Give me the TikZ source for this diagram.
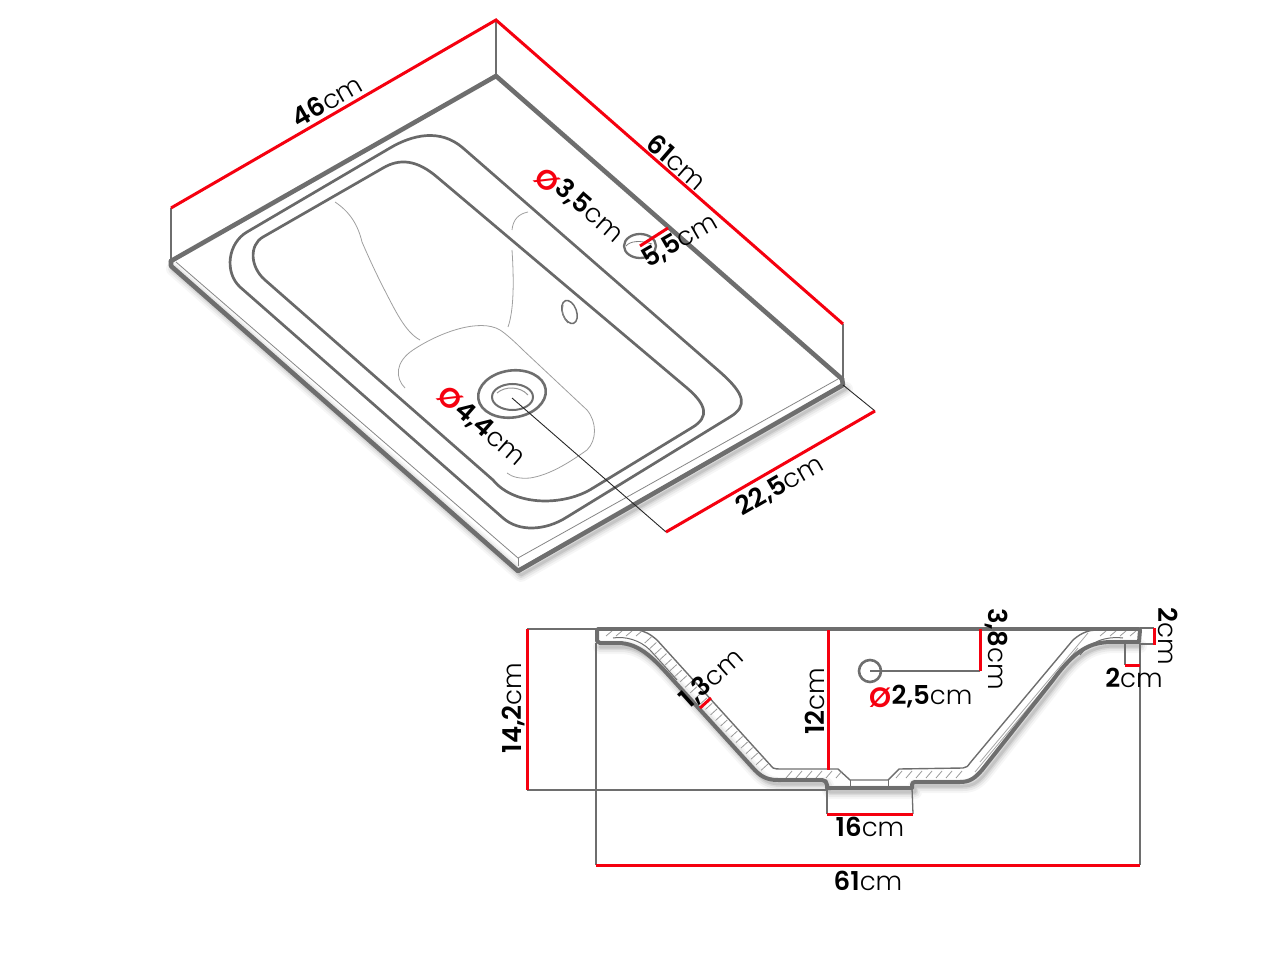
\documentclass[tikz,border=0pt]{standalone}
\usepackage{fontspec}
\setmainfont{Poppins}
\newfontfamily\lightf{Poppins Light}
\newfontfamily\boldf{Poppins SemiBold}
\usetikzlibrary{decorations.pathreplacing}
\definecolor{ln}{HTML}{6E6E6E}
\definecolor{redd}{HTML}{F5000F}
\newcommand{\lab}[2]{{\boldf #1}{\lightf #2}}
\newcommand{\softsh}[1]{%
  \foreach \w/\o in {14/0.035,10/0.05,6/0.07,3/0.09}{\draw[black,opacity=\o,line width=\w pt,line cap=round,line join=round,shift={(3,4)}] #1;}}
\tikzset{
  x=1pt,y=-1pt,
  heavy/.style={ln,line width=4.6pt,line join=round,line cap=round},
  rim/.style={ln!95!black,line width=2.7pt,line join=round},
  fine/.style={gray!75,line width=.8pt},
  sect/.style={ln,line width=1.4pt,line join=round},
  ext/.style={ln,line width=1.3pt},
  reddim/.style={redd,line width=3pt},
  tick/.style={gray!80,line width=.8pt},
  tl/.style={font=\fontsize{26}{26}\selectfont,inner sep=0pt,text=black},
  ph/.style={font=\fontsize{28}{28}\selectfont\boldf,inner sep=0pt,text=redd},
}
\begin{document}
\begin{tikzpicture}
\useasboundingbox (0,0) rectangle (1280,960);
% shadows
\softsh{(170,265) -- (518,571) -- (843,385)}
\softsh{(597,643) -- (618,643) .. controls (640,643) and (655,660) .. (673,680) -- (752,767) .. controls (760,776) and (766,780) .. (778,780) -- (823,780) -- (827,788) -- (912,788) -- (912,782) -- (960,782) .. controls (970,782) and (975,778) .. (982,770) -- (1053,680) .. controls (1075,650) and (1090,642) .. (1112,642) -- (1137,642)}
% ---- top view ----
\draw[ext] (171,208) -- (171,260);
\draw[ext] (496,20) -- (496,76);
\draw[ext] (843,324) -- (843,378);
\draw[reddim] (171,208) -- (496,20) -- (843,324);
\draw[heavy] (171,261) -- (496,76) -- (842,379);
\draw[heavy] (171,261) -- (171,266) -- (518,571) -- (843,385) -- (842,379);
\draw[fine,gray!95] (176,262) -- (518,558) -- (838,379);
\draw[fine,gray!95] (518,558) -- (518,566);
% outer rim
\draw[rim] (390,148) .. controls (412,135) and (440,128) .. (463,148)
  -- (720,372) .. controls (745,394) and (748,406) .. (730,417)
  -- (567,517) .. controls (545,531) and (519,532) .. (503,518)
  -- (240,287) .. controls (224,272) and (228,243) .. (247,232) -- cycle;
% inner rim
\draw[rim] (383,168) .. controls (400,158) and (417,160) .. (437,177)
  -- (687,388) .. controls (707,405) and (709,417) .. (693,427)
  -- (593,488) .. controls (565,506) and (515,507) .. (493,480)
  -- (265,280) .. controls (250,267) and (249,245) .. (263,237) -- cycle;
% fine moulding lines
\draw[fine] (335,202) .. controls (350,212) and (358,225) .. (362,242) .. controls (372,265) and (378,277) .. (383,287) .. controls (395,310) and (405,332) .. (420,340);
\draw[fine] (528,212) .. controls (518,214) and (513,220) .. (512,230);
\draw[fine] (512,250) .. controls (514,280) and (514,310) .. (508,327);
\draw[fine] (405,388) .. controls (395,378) and (395,362) .. (413,350) .. controls (440,332) and (480,318) .. (500,330) .. controls (505,333) and (515,342) .. (523,350) -- (587,410) .. controls (597,422) and (597,440) .. (587,450) .. controls (570,462) and (550,475) .. (530,478) .. controls (520,479) and (512,477) .. (507,473);
% drain
\draw[ln,line width=2.6pt,rotate around={8:(512,394)}] (512,394) ellipse [x radius=34,y radius=23.5];
\draw[ln,line width=2pt] (512.5,397) ellipse [x radius=20.5,y radius=13];
\draw[gray!80,line width=1pt] (497,393) .. controls (505,386) and (520,386) .. (528,395);
% overflow
\draw[ln,line width=1.5pt,rotate around={20:(569.5,312)}] (569.5,312) ellipse [x radius=7,y radius=12];
\draw[gray,line width=1pt] (563,305) .. controls (561,312) and (563,318) .. (568,323);
% tap hole
\draw[ln,line width=2.3pt] (640,246) ellipse [x radius=16,y radius=12];
\draw[gray,line width=.8pt] (626,246) .. controls (630,241) and (640,240) .. (652,244);
% dims top view
\draw[black!85,line width=.9pt] (512,398) -- (666,532);
\draw[black!85,line width=.9pt] (875,411) -- (843,385);
\draw[reddim] (666,532) -- (875,411);
\draw[reddim] (640,246) -- (668,228);
% ---- section ----
\draw[ext] (527,629) -- (597,629);
\draw[ext] (527,790) -- (827,790);
\draw[ext] (596,643) -- (596,865);
\draw[ext] (1140,643) -- (1140,865);
\draw[ext] (827,788) -- (827,814);
\draw[ext] (912,788) -- (913,814);
\draw[ext] (1140,628) -- (1154,628);
\draw[ext] (1140,644) -- (1154,644);
\draw[ext] (1125,640) -- (1125,665);
\draw[ext] (980,671) -- (870,671);
% section outline
\draw[sect] (637,630) .. controls (645,631) and (650,634) .. (657,640) -- (773,768) .. controls (775,769) and (778,769) .. (780,769) -- (838,769) -- (850,780) -- (888,780) -- (899,769) -- (963,768) .. controls (966,768) and (968,766) .. (970,763) -- (1073,640) .. controls (1082,632) and (1090,630) .. (1097,630);
\draw[sect,line width=1pt] (613,638) .. controls (625,636) and (640,640) .. (650,650) -- (677,680);
\draw[sect,line width=1pt] (1123,638) .. controls (1105,636) and (1090,642) .. (1080,655);
\draw[gray!70,line width=.8pt] (980,762) -- (1088,633);
\draw[gray!70,line width=.8pt] (975,772) -- (1078,648);
\draw[sect,line width=1pt] (850,780) -- (850,786);
\draw[sect,line width=1pt] (888,780) -- (888,786);
\draw[tick,decorate,decoration={ticks,segment length=7.5pt,amplitude=4.5pt}] (648,640) -- (768,771);
\foreach \xx in {606,616,626,636} \draw[tick] (\xx,636) -- (\xx+6,631);
\foreach \xx in {786,796,806,816,826,836,896,906,916,926,936,946,956} \draw[tick] (\xx,778) -- (\xx+6,771);
\foreach \xx in {1100,1110,1120,1130} \draw[tick] (\xx,636) -- (\xx+6,631);
\draw[heavy,line width=3.8pt] (598,629) -- (1139,629);
\draw[heavy,line width=4pt] (597,630) -- (597,641) -- (600,643) -- (618,643) .. controls (640,643) and (655,660) .. (673,680) -- (752,767) .. controls (760,776) and (766,780) .. (778,780) -- (822,780) .. controls (825,780) and (827,782) .. (827,785) -- (827,788) -- (912,788) -- (912,785) .. controls (912,783) and (913,782) .. (915,782) -- (960,782) .. controls (970,782) and (975,778) .. (982,770) -- (1053,680) .. controls (1075,650) and (1090,642) .. (1112,642) -- (1139,642) -- (1140,630);
\draw[ln,line width=2.6pt] (870,671) circle [radius=11];
\draw[reddim] (527,629) -- (527,790);
\draw[reddim] (828,630) -- (828,770);
\draw[reddim] (827,814) -- (913,814);
\draw[reddim] (596,865) -- (1140,865);
\draw[reddim] (980,629) -- (980,671);
\draw[reddim] (1154,628) -- (1154,645);
\draw[reddim] (1125,665) -- (1140,665);
\draw[reddim] (700,708) -- (711,698);
% labels
\node[tl,rotate=30] (l46) at (327,101) {\lab{46}{cm}};
\node[tl,rotate=-41] (l61t) at (677,162) {\lab{61}{cm}};
\node[ph,rotate=-41] (p35) at (547,180) {Ø};
\node[tl,rotate=-41] (l35) at (589,211) {\lab{3,5}{cm}};
\node[tl,rotate=30] (l55) at (680,241) {\lab{5,5}{cm}};
\node[ph,rotate=-41] (p44) at (450,398) {Ø};
\node[tl,rotate=-41] (l44) at (490,434) {\lab{4,4}{cm}};
\node[tl,rotate=30] (l225) at (780,486) {\lab{22,5}{cm}};
\node[tl,rotate=90] (l142) at (514,708) {\lab{14,2}{cm}};
\node[tl,rotate=90] (l12) at (815,701) {\lab{12}{cm}};
\node[tl,rotate=42] (l13) at (712,679) {\lab{1,3}{cm}};
\node[tl,rotate=-90] (l38) at (996,649) {\lab{3,8}{cm}};
\node[ph] (p25) at (880,698) {Ø};
\node[tl] (l25) at (932,697) {\lab{2,5}{cm}};
\node[tl,rotate=-90] (l2a) at (1168,636) {\lab{2}{cm}};
\node[tl] (l2b) at (1134,678) {\lab{2}{cm}};
\node[tl] (l16) at (870,827) {\lab{16}{cm}};
\node[tl] (l61b) at (868,881) {\lab{61}{cm}};
\end{tikzpicture}
\end{document}
